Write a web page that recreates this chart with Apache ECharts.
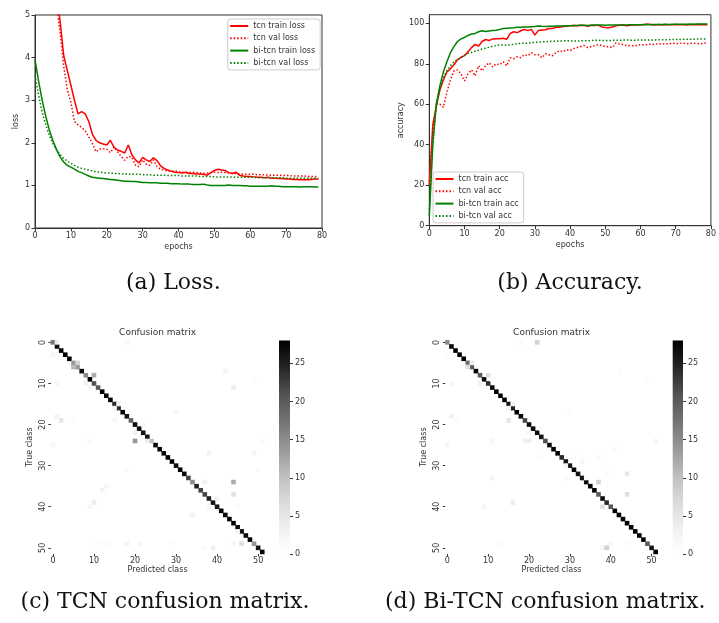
<!DOCTYPE html>
<html><head><meta charset="utf-8">
<script src="https://cdn.jsdelivr.net/npm/echarts@6/dist/echarts.min.js"></script>
<style>html,body{margin:0;padding:0;background:#fff}#c{width:719px;height:623px}</style>
</head><body><div id="c"></div>
<script>
// ---------- data ----------
const epochs = Array.from({length: 80}, (_, i) => i);

const tcnTrainLoss = [12.5,10.2,8.6,7.5,6.7,6.1,5.5,4.85,4.05,3.7,
  3.35,3.0,2.68,2.73,2.68,2.5,2.2,2.06,2.0,1.97,
  1.95,2.06,1.9,1.83,1.8,1.76,1.95,1.72,1.6,1.53,
  1.66,1.6,1.56,1.65,1.58,1.46,1.40,1.36,1.33,1.31,
  1.30,1.29,1.31,1.28,1.28,1.27,1.27,1.26,1.24,1.30,
  1.35,1.38,1.36,1.35,1.30,1.28,1.31,1.24,1.22,1.21,
  1.21,1.20,1.19,1.19,1.18,1.19,1.17,1.17,1.16,1.16,
  1.15,1.15,1.14,1.14,1.13,1.14,1.13,1.14,1.15,1.15];
const tcnValLoss = [11.8,9.6,8.1,7.0,6.3,5.7,5.2,4.6,3.8,3.25,
  2.95,2.5,2.42,2.36,2.28,2.14,1.98,1.79,1.85,1.86,
  1.85,1.77,1.9,1.79,1.68,1.59,1.68,1.66,1.47,1.44,
  1.6,1.5,1.47,1.6,1.44,1.38,1.36,1.34,1.33,1.34,
  1.32,1.31,1.30,1.30,1.31,1.30,1.29,1.28,1.29,1.30,
  1.31,1.30,1.31,1.30,1.29,1.28,1.28,1.27,1.27,1.26,
  1.26,1.26,1.25,1.25,1.25,1.24,1.24,1.24,1.24,1.23,
  1.23,1.23,1.22,1.22,1.22,1.22,1.21,1.21,1.21,1.21];
const biTrainLoss = [3.95,3.45,3.0,2.62,2.3,2.05,1.84,1.67,1.55,1.47,
  1.43,1.38,1.33,1.30,1.26,1.22,1.19,1.18,1.17,1.16,
  1.15,1.14,1.13,1.12,1.11,1.10,1.10,1.09,1.09,1.08,
  1.07,1.07,1.06,1.06,1.06,1.05,1.05,1.05,1.04,1.04,
  1.04,1.03,1.03,1.03,1.02,1.02,1.02,1.03,1.01,1.00,
  1.00,1.00,1.00,1.00,1.01,1.00,1.00,1.00,0.99,0.99,
  0.98,0.98,0.98,0.98,0.98,0.98,0.99,0.98,0.98,0.97,
  0.97,0.97,0.97,0.97,0.96,0.97,0.97,0.97,0.96,0.96];
const biValLoss = [3.58,3.12,2.72,2.42,2.18,1.98,1.83,1.72,1.63,1.57,
  1.52,1.47,1.43,1.40,1.38,1.36,1.34,1.32,1.31,1.30,
  1.29,1.29,1.28,1.28,1.27,1.27,1.27,1.26,1.26,1.26,
  1.25,1.25,1.25,1.24,1.24,1.24,1.24,1.23,1.23,1.23,
  1.23,1.22,1.22,1.22,1.22,1.22,1.21,1.21,1.21,1.21,
  1.20,1.20,1.20,1.20,1.20,1.20,1.19,1.19,1.19,1.19,
  1.19,1.19,1.18,1.18,1.18,1.18,1.18,1.18,1.18,1.18,
  1.17,1.17,1.17,1.17,1.17,1.17,1.17,1.17,1.17,1.17];

const tcnTrainAcc = [20,50,59,67,72,76,77.5,79.5,82,83.2,
  84,86,88,89.6,88.8,91,92,91.5,92.3,92.4,
  92.4,92.6,92.1,95,95.8,95.4,96.3,97,96.4,97,
  94.2,96.5,96.7,96.8,97.4,97.4,98,98.1,98.4,98.7,
  98.8,98.9,98.8,99,98.9,98.5,99,98.9,99.1,98.2,
  97.9,97.8,98.2,98.8,99,99.2,98.8,99,99.1,99.2,
  99.3,99.4,99.6,99.3,99.1,99.4,99.2,99.4,99.3,99.3,
  99.4,99.3,99.4,99.1,99.3,99.4,99.3,99.3,99.4,99.3];
const tcnValAcc = [22,45,60,60,58.5,66,72,76.5,77,75,
  71.5,75,77,74,79,76.5,79,80.5,78.5,80,
  79.5,81,79,83,82.5,83.5,83,84.5,84,85.5,
  84.5,84.5,83,85,84.5,84,85.5,86.5,86,87,
  86.5,87.5,88,88.5,89,88,88.5,89,89.5,89,
  88.5,88.4,88,90.3,89.8,89.5,89,89,88.8,89,
  89.5,89.3,89.6,89.8,89.5,90,89.7,90,89.8,90.2,
  89.9,90,90.3,89.8,90,90.2,90,89.9,90.2,90.4];
const biTrainAcc = [4.5,40,60,69,76,81,85.5,88.5,91,92.3,
  93,94,94.7,95,95.8,96.3,96,96.2,96.4,96.6,
  97,97.4,97.6,97.7,97.8,98,98.1,98.2,98.2,98.3,
  98.4,98.7,98.5,98.4,98.6,98.6,98.7,98.7,98.7,98.8,
  98.8,98.9,98.9,99,99,98.9,99,99.1,99.1,99.2,
  99,99.1,99.1,99.2,99.2,99.2,99.2,99.3,99.3,99.3,
  99.3,99.4,99.3,99.4,99.4,99.4,99.4,99.5,99.4,99.5,
  99.5,99.5,99.5,99.5,99.6,99.5,99.6,99.6,99.6,99.6];
const biValAcc = [8,42,60,68,73,76.5,79,81,82,83,
  84.3,85,85.6,86.2,86.7,87.3,87.7,88.2,88.7,89,
  89.3,89.3,89.2,89.5,89.6,89.9,90.1,90.2,90.2,90.5,
  90.6,90.7,90.8,90.9,91,91.1,91.2,91.3,91.3,91.4,
  91.3,91.2,91.2,91.3,91.4,91.4,91.5,91.7,91.6,91.5,
  91.5,91.5,91.6,91.6,91.6,91.7,91.7,91.7,91.6,91.7,
  91.7,91.8,91.7,91.8,91.8,91.9,91.9,91.9,91.9,92,
  92,92,92.1,92.1,92.1,92.1,92.2,92.2,92.2,92.2];

const lossNames = ['tcn train loss','tcn val loss','bi-tcn train loss','bi-tcn val loss'];
const accNames = ['tcn train acc','tcn val acc','bi-tcn train acc','bi-tcn val acc'];
const lossTicks = [0,1,2,3,4,5];
const accTicks = [0,20,40,60,80,100];
const epochTicks = [0,10,20,30,40,50,60,70,80];

// confusion matrices (52 classes)
const classes = Array.from({length: 52}, (_, i) => String(i));
const tcnDiag = [17,27,28,28,28,14,14,27,15,28, 21,20,28,28,28,24,24,28,26,19,
  27,27,26,26,10,27,28,27,28,28, 27,28,27,22,15,25,22,22,25,26,
  26,28,27,28,28,27,26,27,28,14, 26,28];
// [trueRow, predictedCol, count]
const tcnOff = [[0,1,4],[0,18,2],[3,0,2],[5,6,8],[6,5,11],[7,42,2],[8,10,12],[9,49,1],
  [10,1,2],[10,8,3],[11,9,2],[11,44,4],[15,16,3],[16,15,3],[17,30,2],[18,1,3],
  [19,2,5],[19,5,1],[19,15,2],[20,22,2],[22,20,3],[24,9,1],[24,20,14],[24,23,4],
  [24,51,1],[25,0,2],[27,38,3],[27,49,2],[31,18,1],[31,50,1],[34,37,3],[34,44,12],
  [35,13,2],[36,12,3],[37,44,6],[38,40,3],[39,10,4],[40,9,2],[40,38,2],[40,45,1],
  [42,34,3],[46,45,2],[49,11,1],[49,13,1],[49,18,3],[49,21,2],[49,29,1],[49,44,2],
  [49,46,6],[50,37,1],[50,39,4]];
const biDiag = [15,27,28,28,28,18,20,28,20,27, 24,27,28,28,28,26,25,28,27,22,
  27,27,27,26,21,27,28,28,24,26, 26,28,26,26,27,28,28,20,27,24,
  20,28,28,28,28,28,28,28,28,20, 26,28];
const biOff = [[0,18,1],[0,22,8],[3,0,1],[5,6,4],[6,5,6],[7,42,1],[8,10,6],[9,11,1],
  [9,49,1],[10,1,2],[10,8,3],[15,16,3],[16,15,2],[17,30,1],[18,1,3],[19,2,1],
  [19,15,5],[21,23,1],[22,20,2],[24,11,2],[24,19,3],[24,20,4],[24,51,2],[25,0,2],
  [26,41,1],[28,23,1],[28,31,1],[28,37,1],[29,33,2],[30,29,2],[32,39,1],[32,44,5],
  [33,11,2],[33,29,1],[33,34,1],[34,37,8],[37,44,6],[39,16,4],[40,9,2],[40,38,6],
  [49,13,1],[49,40,2],[49,44,1],[50,38,2],[50,39,8]];
const cbMax = 28;
const cbTicks = [0,5,10,15,20,25];

// ---------- build ----------
const FONT = 'DejaVu Sans';
const TXT = '#333';
const greys = ['#ffffff','#f0f0f0','#d9d9d9','#bdbdbd','#969696','#737373','#525252','#252525','#000000'];
const pairs = arr => epochs.map((e, i) => [e, arr[i]]);
function cm(diag, off) {
  const d = diag.map((v, i) => [i, i, v]);
  off.forEach(([r, c, v]) => d.push([c, r, v]));
  return d;
}
const RED = '#ff0000', GREEN = '#008000';
function lineSeries(name, arr, color, dotted, axis) {
  return {type:'line', name, data: pairs(arr), xAxisIndex: axis, yAxisIndex: axis,
    symbol:'none', showSymbol:false, clip:true, animation:false,
    lineStyle:{color, width: 1.5, type: dotted ? [1.5, 2] : 'solid'}, itemStyle:{color}};
}
function valueAxisCommon() {
  return {axisLine:{show:true, lineStyle:{color:TXT, width:1}},
    axisTick:{show:true, inside:false, length:3.5, lineStyle:{color:TXT}},
    splitLine:{show:false},
    axisLabel:{fontFamily:FONT, fontSize:8, color:TXT},
    nameTextStyle:{fontFamily:FONT, fontSize:8, color:TXT}};
}
function xLine(grid) {
  return Object.assign(valueAxisCommon(), {type:'value', gridIndex:grid, min:0, max:80,
    name:'epochs', nameLocation:'middle', nameGap:15,
    axisLabel:{fontFamily:FONT, fontSize:8, color:TXT, margin:4, customValues: epochTicks},
    axisTick:{show:true, length:3.5, lineStyle:{color:TXT}, customValues: epochTicks}});
}
function catX(grid) {
  return {type:'category', gridIndex:grid, data: classes, name:'Predicted class',
    nameLocation:'middle', nameGap:10,
    nameTextStyle:{fontFamily:FONT, fontSize:8, color:TXT},
    axisLine:{show:false}, splitLine:{show:false},
    axisTick:{show:true, interval:9, alignWithLabel:true, length:2.5, lineStyle:{color:TXT}},
    axisLabel:{interval:9, fontFamily:FONT, fontSize:8, color:TXT, margin:3}};
}
function catY(grid) {
  return {type:'category', gridIndex:grid, data: classes, inverse:true, name:'True class',
    nameLocation:'middle', nameGap:17,
    nameTextStyle:{fontFamily:FONT, fontSize:8, color:TXT},
    axisLine:{show:false}, splitLine:{show:false},
    axisTick:{show:true, interval:9, alignWithLabel:true, length:2.5, lineStyle:{color:TXT}},
    axisLabel:{interval:9, rotate:90, fontFamily:FONT, fontSize:8, color:TXT, margin:4}};
}
function cbY(grid) {
  return {type:'value', gridIndex:grid, position:'right', min:0, max:cbMax,
    axisLine:{show:false}, splitLine:{show:false},
    axisTick:{show:true, length:3, lineStyle:{color:TXT}, customValues: cbTicks},
    axisLabel:{fontFamily:FONT, fontSize:8, color:TXT, margin:5, customValues: cbTicks}};
}
const cbGradient = {type:'linear', x:0, y:0, x2:0, y2:1,
  colorStops: greys.slice().reverse().map((c, i) => ({offset: i / (greys.length - 1), color: c}))};
function legend(names, left, top) {
  return {data: names, left, top, orient:'vertical', itemWidth:18, itemHeight:8, itemGap:4.3,
    padding:[3,5,3,1.5], backgroundColor:'rgba(255,255,255,0.85)', borderColor:'#cccccc',
    borderWidth:1, borderRadius:3, itemStyle:{opacity:0},
    textStyle:{fontFamily:FONT, fontSize:8, color:TXT}, selectedMode:false};
}
const CAP = '22px "DejaVu Serif"';

const option = {
  animation:false,
  backgroundColor:'#ffffff',
  grid:[
    {left:35, top:15, width:287, height:213, show:true, borderColor:TXT, borderWidth:1},
    {left:429.3, top:14.7, width:285.7, height:211, show:true, borderColor:TXT, borderWidth:1},
    {left:50.9, top:340.3, width:213.4, height:213.7},
    {left:445.3, top:340.3, width:212.4, height:213.7},
    {left:279, top:340.4, width:11, height:213.9},
    {left:672.7, top:340.4, width:10.3, height:213.9}
  ],
  xAxis:[
    xLine(0), xLine(1), catX(2), catX(3),
    {type:'category', gridIndex:4, data:['cb'], show:false},
    {type:'category', gridIndex:5, data:['cb'], show:false}
  ],
  yAxis:[
    Object.assign(valueAxisCommon(), {type:'value', gridIndex:0, min:0, max:5, name:'loss',
      nameLocation:'middle', nameGap:15,
      axisLabel:{fontFamily:FONT, fontSize:8, color:TXT, margin:5, customValues: lossTicks},
      axisTick:{show:true, length:3.5, lineStyle:{color:TXT}, customValues: lossTicks}}),
    Object.assign(valueAxisCommon(), {type:'value', gridIndex:1, min:0, max:104.25, name:'accuracy',
      nameLocation:'middle', nameGap:23,
      axisLabel:{fontFamily:FONT, fontSize:8, color:TXT, margin:5, customValues: accTicks},
      axisTick:{show:true, length:3.5, lineStyle:{color:TXT}, customValues: accTicks}}),
    catY(2), catY(3), cbY(4), cbY(5)
  ],
  visualMap:{show:false, type:'continuous', min:0, max:cbMax, seriesIndex:[8,9],
    inRange:{color: greys}},
  legend:[legend(lossNames, 227.7, 19), legend(accNames, 433, 172)],
  series:[
    lineSeries(lossNames[0], tcnTrainLoss, RED, false, 0),
    lineSeries(lossNames[1], tcnValLoss, RED, true, 0),
    lineSeries(lossNames[2], biTrainLoss, GREEN, false, 0),
    lineSeries(lossNames[3], biValLoss, GREEN, true, 0),
    lineSeries(accNames[0], tcnTrainAcc, RED, false, 1),
    lineSeries(accNames[1], tcnValAcc, RED, true, 1),
    lineSeries(accNames[2], biTrainAcc, GREEN, false, 1),
    lineSeries(accNames[3], biValAcc, GREEN, true, 1),
    {type:'heatmap', xAxisIndex:2, yAxisIndex:2, data: cm(tcnDiag, tcnOff), silent:true},
    {type:'heatmap', xAxisIndex:3, yAxisIndex:3, data: cm(biDiag, biOff), silent:true},
    {type:'bar', xAxisIndex:4, yAxisIndex:4, data:[cbMax], barWidth:'100%', silent:true,
      itemStyle:{color: cbGradient}},
    {type:'bar', xAxisIndex:5, yAxisIndex:5, data:[cbMax], barWidth:'100%', silent:true,
      itemStyle:{color: cbGradient}}
  ],
  graphic:[
    {type:'text', x:157.6, y:332.3, style:{text:'Confusion matrix', font:'9px "DejaVu Sans"', fill:TXT, align:'center', verticalAlign:'middle'}},
    {type:'text', x:551.6, y:332.3, style:{text:'Confusion matrix', font:'9px "DejaVu Sans"', fill:TXT, align:'center', verticalAlign:'middle'}},
    {type:'text', x:173.3, y:283, style:{text:'(a) Loss.', font:CAP, fill:'#111', align:'center', verticalAlign:'middle'}},
    {type:'text', x:570, y:283, style:{text:'(b) Accuracy.', font:CAP, fill:'#111', align:'center', verticalAlign:'middle'}},
    {type:'text', x:165, y:602, style:{text:'(c) TCN confusion matrix.', font:CAP, fill:'#111', align:'center', verticalAlign:'middle'}},
    {type:'text', x:385, y:602, style:{text:'(d) Bi-TCN confusion matrix.', font:CAP, fill:'#111', align:'left', verticalAlign:'middle'}}
  ]
};
const chart = echarts.init(document.getElementById('c'), null, {renderer:'canvas'});
chart.setOption(option);
</script>
</body></html>
